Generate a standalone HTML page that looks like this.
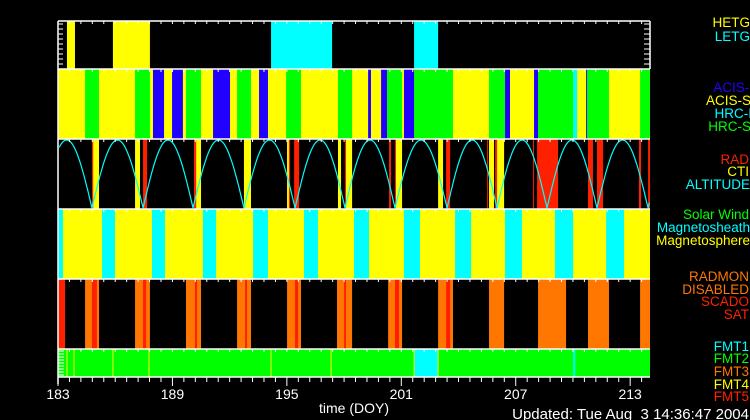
<!DOCTYPE html>
<html><head><meta charset="utf-8"><style>
html,body{margin:0;padding:0;background:#000;width:750px;height:420px;overflow:hidden}
svg{display:block}
text{font-family:"Liberation Sans",sans-serif;white-space:pre}
</style></head><body>
<svg id="chart" width="750" height="420" viewBox="0 0 750 420"></svg>
<script>
// ---- data (DOY) ----
const xTicks = [183, 189, 195, 201, 207, 213];
const hetg = [[183.47,183.89],[185.88,187.82]];
const letg = [[194.17,197.37],[201.67,202.93]];
const instGreen = [[184.42,185.15],[187.04,187.82],[189.71,190.50],[192.39,193.12],[194.96,195.74],[197.68,198.42],[200.25,201.04],[201.67,203.71],[205.60,206.44],[208.17,210.01],[210.74,211.89],[213.52,214.04]];
const instBlue = [[187.98,188.56],[188.98,189.55],[191.13,192.02],[193.54,194.01],[199.26,199.41],[199.94,200.25],[201.14,201.67],[206.44,206.70],[207.96,208.17],[210.69,210.74]];
const instCyan = [[210.01,210.22]];
const perigees = [182.13,184.78,187.46,190.08,192.75,195.43,198.05,200.67,203.40,206.02,208.64,211.26,213.94,216.6];
const radRed = [[184.78,184.84],[187.46,187.67],[190.13,190.24],[195.11,195.17],[195.38,195.64],[198.05,198.10],[200.36,200.46],[200.67,200.72],[203.35,203.56],[205.50,205.55],[205.92,206.02],[207.91,207.96],[208.12,209.22],[210.79,211.05],[211.26,211.58],[213.46,213.57],[213.94,214.04]];
const ctiYellow = [[184.84,185.15],[187.04,187.30],[190.24,190.50],[192.75,193.12],[195.01,195.11],[197.68,197.84],[198.10,198.42],[200.72,201.04],[202.93,203.19],[205.60,205.86],[206.02,206.39]];
const sheath = [[183.0,183.26],[185.31,185.99],[187.93,188.61],[190.60,191.29],[193.23,194.01],[195.90,196.63],[198.52,199.31],[201.14,201.98],[203.82,204.66],[206.44,207.33],[209.06,210.01],[211.74,212.68]];
const radmon = [[184.42,185.15],[187.04,187.82],[189.71,190.50],[192.39,193.12],[195.01,195.74],[197.63,198.42],[200.31,201.04],[202.93,203.71],[205.60,206.39],[208.17,209.64],[210.79,211.89],[213.52,214.04]];
const scadoRed = [[183.0,183.37],[184.78,185.04],[187.46,187.62],[190.18,190.29],[192.81,192.91],[195.43,195.59],[198.00,198.10],[200.67,200.88],[203.35,203.56]];
const fmtCyan = [[201.67,202.93],[210.01,210.12]];
const fmtYellowLines = [183.47,183.84,185.88,187.77,194.17,197.32,201.67,202.93];

const X0=58, X1=650, D0=183, D1=214.04;
function xs(d){return X0+(d-D0)*(X1-X0)/(D1-D0);}
const svg=document.getElementById('chart');
const NS='http://www.w3.org/2000/svg';
function mk(tag,attrs,name){const e=document.createElementNS(NS,tag);for(const k in attrs)e.setAttribute(k,attrs[k]);


svg.appendChild(e);return e;}
const panels=[[21,69],[69,139],[139,209],[209,279],[279,349],[349,377]];
function bands(arr,p,color,name){const [y0,y1]=panels[p];arr.forEach(s=>{const a=Math.max(xs(s[0]),X0),b=Math.min(xs(s[1]),X1);mk('rect',{x:a,y:y0,width:Math.max(b-a,1),height:y1-y0,fill:color},name);});}
function bg(p,color,name){const [y0,y1]=panels[p];mk('rect',{x:X0,y:y0,width:X1-X0,height:y1-y0,fill:color},name);}

bands(hetg,0,'#ffff00','hetg-band');
bands(letg,0,'#00ffff','letg-band');
bg(1,'#ffff00','acis-s-background');
bands(instGreen,1,'#00ff00','hrc-s-band');
bands(instBlue,1,'#2200ff','acis-i-band');
bands(instCyan,1,'#00ffff','hrc-i-band');
bands(ctiYellow,2,'#ffff00','cti-band');
bands(radRed,2,'#ff2000','rad-band');
(function(){const [y0,y1]=panels[2];let pts=[];
for(let i=0;i<perigees.length-1;i++){const a=perigees[i],b=perigees[i+1];
for(let k=0;k<=40;k++){const d=a+(b-a)*k/40;if(d<D0||d>D1)continue;const v=Math.sin(Math.PI*k/40);pts.push(xs(d).toFixed(1)+','+(y1-1-v*(y1-y0-2)).toFixed(1));}}
mk('polyline',{points:pts.join(' '),fill:'none',stroke:'#00ffff','stroke-width':1.2},'altitude-line');})();
bg(3,'#ffff00','magnetosphere-background');
bands(sheath,3,'#00ffff','magnetosheath-band');
bands(radmon,4,'#ff7700','radmon-band');
bands(scadoRed,4,'#ff2000','scado-band');
bg(5,'#00ff00','fmt2-background');
bands(fmtCyan,5,'#00ffff','fmt1-band');
fmtYellowLines.forEach(d=>{mk('line',{x1:xs(d),x2:xs(d),y1:349,y2:377,stroke:'#ffff00','stroke-width':1},'fmt4-line');});

[21,69,139,209,279,349,377].forEach(y=>mk('line',{x1:X0,x2:X1,y1:y,y2:y,stroke:'#fff','stroke-width':1.5},'panel-border'));
mk('line',{x1:X0,x2:X0,y1:21,y2:384,stroke:'#fff','stroke-width':1.5},'left-axis');
mk('line',{x1:X1,x2:X1,y1:21,y2:69,stroke:'#fff','stroke-width':1.5},'right-border');
for(let d=D0;d<=D1+0.001;d+=0.6){const x=xs(d);const maj=Math.abs((d-D0)/6-Math.round((d-D0)/6))<0.01;
[21,69,139,209,279,349].forEach(y=>mk('line',{x1:x,x2:x,y1:y,y2:y+3,stroke:'#fff','stroke-width':1},'x-minor-tick'));
mk('line',{x1:x,x2:x,y1:377,y2:maj?386:382,stroke:'#fff','stroke-width':1},'x-tick');}
for(let y=24;y<68;y+=5){mk('line',{x1:X0,x2:X0+5,y1:y,y2:y,stroke:'#fff'},'y-tick');mk('line',{x1:X1-6,x2:X1,y1:y,y2:y,stroke:'#fff'},'y-tick');}
for(let y=351;y<376;y+=3){mk('line',{x1:X0,x2:X0+6,y1:y,y2:y,stroke:'#fff'},'y-tick');}
xTicks.forEach(t=>{const e=mk('text',{x:xs(t),y:399,fill:'#fff','text-anchor':'middle','font-size':14},'x-tick-label');e.textContent=t;});
</script>
<svg style="position:absolute;left:0;top:0" width="750" height="420">
<g font-family="Liberation Sans, sans-serif" font-size="13.5" text-anchor="end">
<text x="750" y="27" fill="#ffff00">HETG</text>
<text x="750" y="41" fill="#00ffff">LETG</text>
<text x="753" y="92" fill="#2200ff">ACIS-I</text>
<text x="751" y="105" fill="#ffff00">ACIS-S</text>
<text x="752" y="118" fill="#00ffff">HRC-I</text>
<text x="751" y="131" fill="#00ff00">HRC-S</text>
<text x="749" y="164" fill="#ff2000">RAD</text>
<text x="749" y="176" fill="#ffff00">CTI</text>
<text x="750" y="189" fill="#00ffff">ALTITUDE</text>
<text x="749" y="219" fill="#00ff00">Solar Wind</text>
<text x="750" y="232" fill="#00ffff">Magnetosheath</text>
<text x="750" y="245" fill="#ffff00">Magnetosphere</text>
<text x="749" y="281" fill="#ff7700">RADMON</text>
<text x="749" y="294" fill="#ff7700">DISABLED</text>
<text x="749" y="306" fill="#ff2000">SCADO</text>
<text x="749" y="319" fill="#ff2000">SAT</text>
<text x="749" y="351" fill="#00ffff">FMT1</text>
<text x="749" y="363" fill="#00ff00">FMT2</text>
<text x="749" y="376" fill="#ff7700">FMT3</text>
<text x="749" y="389" fill="#ffff00">FMT4</text>
<text x="749" y="401" fill="#ff2000">FMT5</text>
<text x="749" y="419" fill="#fff" font-size="15">Updated: Tue Aug  3 14:36:47 2004</text>
</g>
<text x="354" y="413" fill="#fff" font-family="Liberation Sans, sans-serif" font-size="14" text-anchor="middle">time (DOY)</text>
</svg>
</body></html>
